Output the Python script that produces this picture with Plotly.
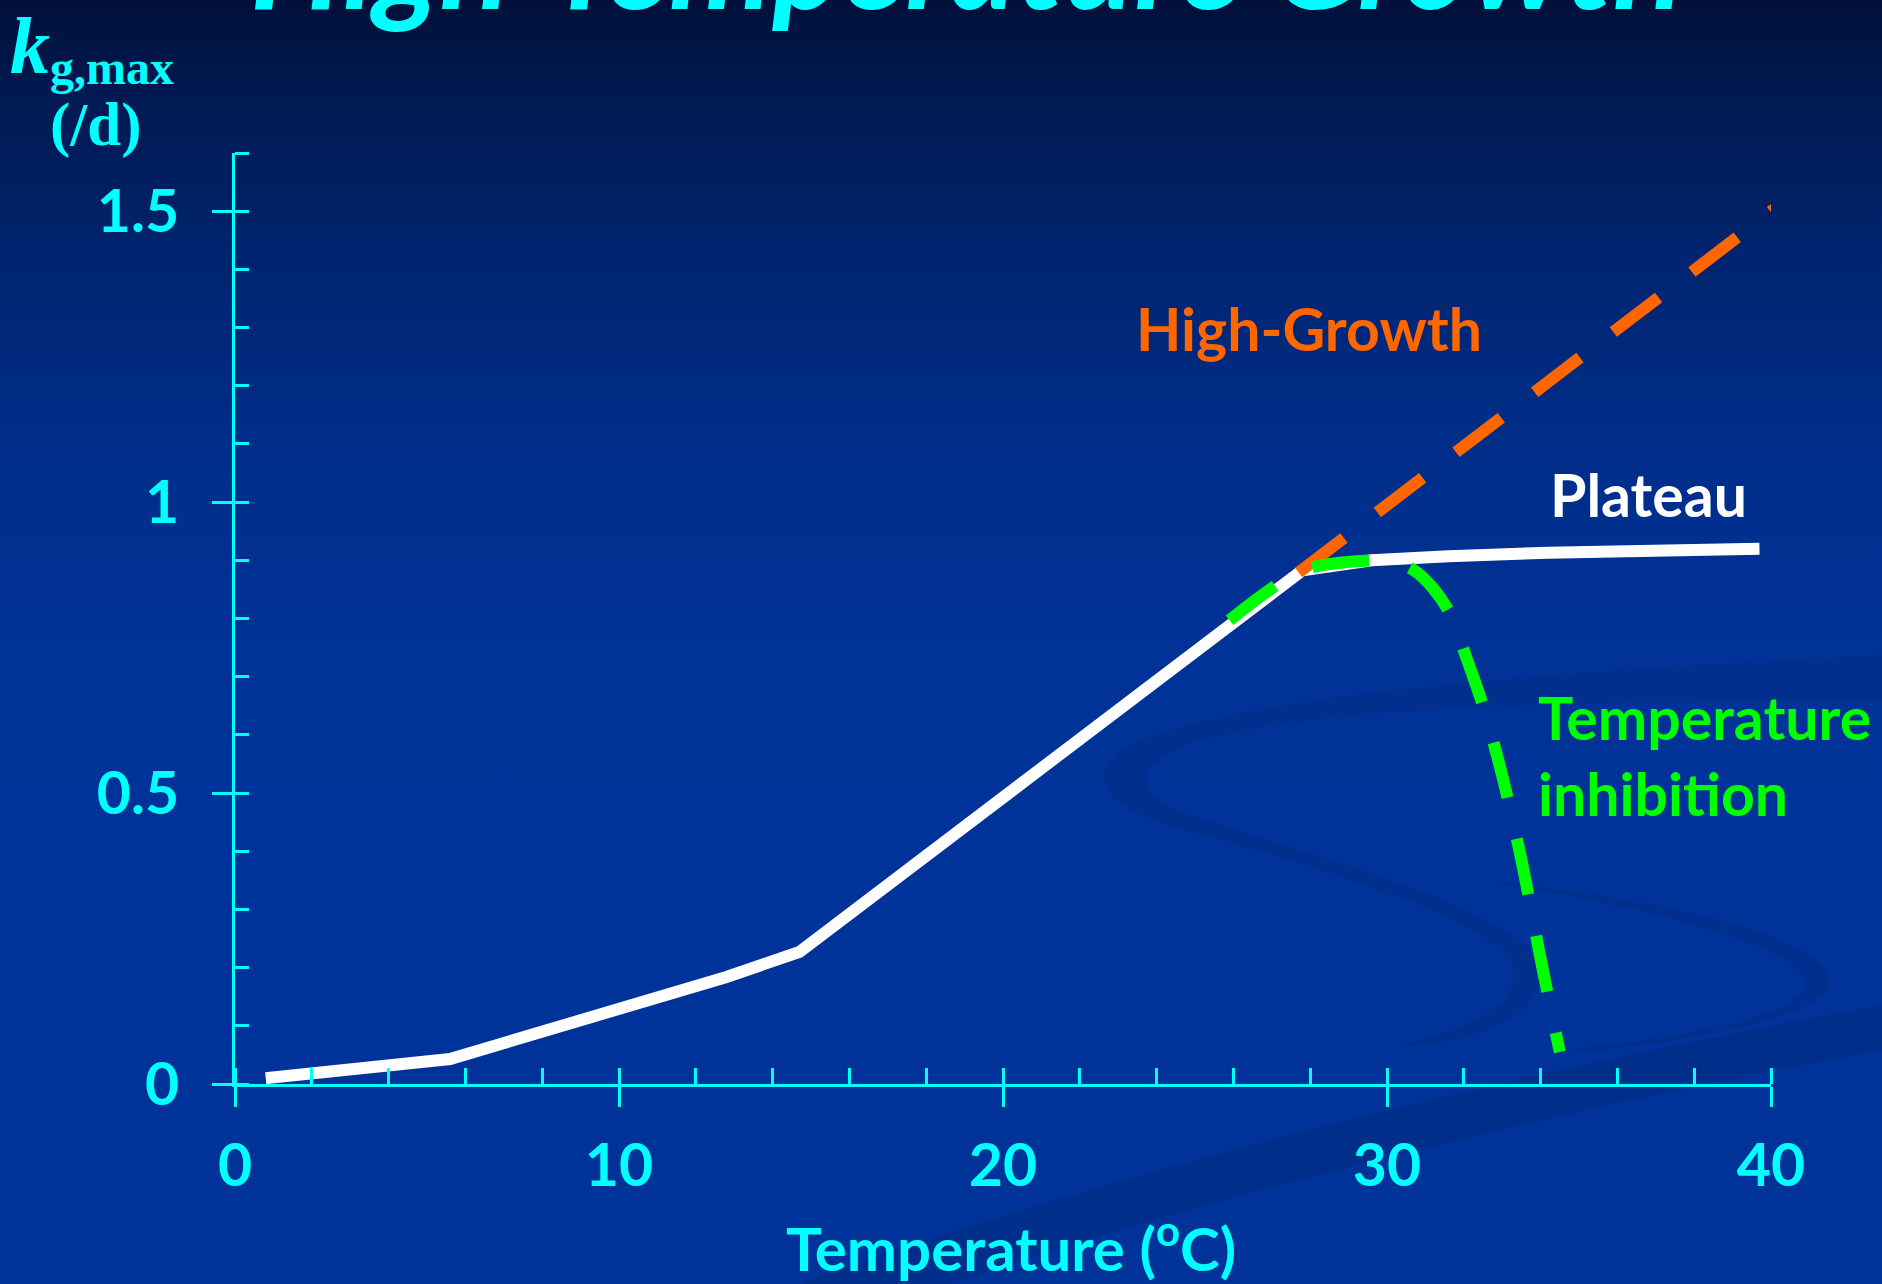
import base64
import plotly.graph_objects as go

# Maximum growth rate k_g,max (/d) against temperature (degC)
plateau_temp = [0.8, 5.6, 12.8, 14.7, 27.8, 29.6, 31.6, 34.2, 39.7]
plateau_rate = [0.010, 0.043, 0.184, 0.227, 0.883, 0.900, 0.907, 0.913, 0.920]

high_growth_temp = [27.7, 40.25]
high_growth_rate = [0.879, 1.512]

inhibition_temp = [25.9, 27.8, 29.6, 30.2, 30.7, 31.2, 31.65, 32.0, 32.5, 33.0, 33.5, 34.0, 34.5]
inhibition_rate = [0.797, 0.883, 0.900, 0.897, 0.883, 0.852, 0.808, 0.745, 0.650, 0.530, 0.385, 0.215, 0.055]

x_tick_vals = [0, 10, 20, 30, 40]
x_tick_text = ["0", "10", "20", "30", "40"]
y_tick_vals = [0, 0.5, 1, 1.5]
y_tick_text = ["0", "0.5", "1", "1.5"]

CYAN = "#00FFFF"
ORANGE = "#FF6600"
GREEN = "#00FF00"
SANS = "Lato"
SERIF = "Liberation Serif"

# page geometry (pixels)
FIG_W, FIG_H = 1882, 1284
M_L, M_R, M_T, M_B = 235, 111, 153, 200
PLOT_W = FIG_W - M_L - M_R
PLOT_H = FIG_H - M_T - M_B


def px(x):
    return (x - M_L) / PLOT_W


def py(y):
    return (FIG_H - M_B - y) / PLOT_H


# slide background: vertical navy gradient with faint swooshes
svg = f"""<svg xmlns="http://www.w3.org/2000/svg" width="{FIG_W}" height="{FIG_H}" viewBox="0 0 {FIG_W} {FIG_H}">
<defs><linearGradient id="bg" x1="0" y1="0" x2="0" y2="1">
<stop offset="0" stop-color="#00103a"/>
<stop offset="0.08" stop-color="#001a52"/>
<stop offset="0.2" stop-color="#00246f"/>
<stop offset="0.34" stop-color="#002d88"/>
<stop offset="0.5" stop-color="#003297"/>
<stop offset="0.62" stop-color="#003399"/>
<stop offset="1" stop-color="#003399"/>
</linearGradient></defs>
<rect width="{FIG_W}" height="{FIG_H}" fill="url(#bg)"/>
<path d="M 800 1284 C 1100 1175, 1500 1075, 1882 1005 L 1882 1050 C 1500 1120, 1150 1215, 950 1284 Z" fill="#002e8b"/>
<path d="M 1882 655 C 1600 670, 1250 690, 1130 745 C 1080 775, 1100 810, 1200 835 C 1350 875, 1480 920, 1510 960 C 1530 1000, 1470 1030, 1400 1045
         L 1430 1045 C 1520 1030, 1560 990, 1530 950 C 1490 905, 1330 860, 1190 815 C 1120 790, 1140 760, 1200 740 C 1330 705, 1600 700, 1882 700 Z" fill="#002f8d"/>
<path d="M 1470 880 C 1650 905, 1810 950, 1805 985 C 1800 1015, 1700 1035, 1560 1050 L 1600 1050 C 1740 1035, 1830 1010, 1830 980 C 1830 940, 1660 895, 1470 880 Z" fill="#002f8d"/>
</svg>"""
bg_uri = "data:image/svg+xml;base64," + base64.b64encode(svg.encode()).decode()

fig = go.Figure()

fig.add_trace(go.Scatter(
    x=plateau_temp, y=plateau_rate, mode="lines",
    line=dict(color="white", width=12), hoverinfo="skip", showlegend=False))
fig.add_trace(go.Scatter(
    x=high_growth_temp, y=high_growth_rate, mode="lines",
    line=dict(color=ORANGE, width=12, dash="57px,42px"), hoverinfo="skip", showlegend=False))
fig.add_trace(go.Scatter(
    x=inhibition_temp, y=inhibition_rate, mode="lines",
    line=dict(color=GREEN, width=12, dash="57px,42px", shape="spline", smoothing=0.8),
    hoverinfo="skip", showlegend=False))

tick_font = dict(family=SANS, size=59, color=CYAN, weight="bold")
common = dict(showgrid=False, zeroline=False, fixedrange=True,
              showline=True, linecolor=CYAN, linewidth=3,
              ticks="outside", ticklen=20, tickwidth=2.5, tickcolor=CYAN,
              tickfont=tick_font)

fig.update_layout(
    width=FIG_W, height=FIG_H,
    margin=dict(l=M_L, r=M_R, t=M_T, b=M_B, pad=0),
    paper_bgcolor="#003399", plot_bgcolor="rgba(0,0,0,0)",
    showlegend=False,
    xaxis=dict(range=[0, 40], tickvals=x_tick_vals, ticktext=x_tick_text,
               minor=dict(ticks="inside", tick0=0, dtick=2, ticklen=16,
                          tickwidth=2.5, tickcolor=CYAN, showgrid=False),
               ticklabelstandoff=8, **common),
    yaxis=dict(range=[0, 1.6], tickvals=y_tick_vals, ticktext=y_tick_text,
               minor=dict(ticks="inside", tick0=0, dtick=0.1, ticklen=14,
                          tickwidth=2.5, tickcolor=CYAN, showgrid=False),
               ticklabelstandoff=21, **common),
    images=[dict(source=bg_uri, xref="paper", yref="paper",
                 x=px(0), y=py(0), sizex=FIG_W / PLOT_W, sizey=FIG_H / PLOT_H,
                 xanchor="left", yanchor="top", sizing="stretch", layer="below")],
)

label = dict(family=SANS, size=59, weight="bold")
annotations = [
    dict(text="High-Temperature Growth", x=px(966), y=py(-41), xanchor="center", yanchor="middle",
         font=dict(family=SANS, size=130, color=CYAN, weight="bold", style="italic")),
    dict(text="High-Growth", x=px(1134), y=py(328), xanchor="left", yanchor="middle",
         font=dict(label, color=ORANGE)),
    dict(text="Plateau", x=px(1548), y=py(495), xanchor="left", yanchor="middle",
         font=dict(label, color="white")),
    dict(text="Temperature", x=px(1536), y=py(717), xanchor="left", yanchor="middle",
         font=dict(label, color=GREEN)),
    dict(text="inhibition", x=px(1536), y=py(793), xanchor="left", yanchor="middle",
         font=dict(label, color=GREEN)),
    dict(text="Temperature (<sup>o</sup>C)", x=px(1011), y=py(1286), xanchor="center", yanchor="bottom",
         font=dict(family=SANS, size=60, color=CYAN, weight="bold")),
    dict(text="<b><i>k</i></b>", x=px(8), y=py(0), xanchor="left", yanchor="top",
         font=dict(family=SERIF, size=80, color=CYAN)),
    dict(text="<b>g,max</b>", x=px(48), y=py(39), xanchor="left", yanchor="top",
         font=dict(family=SERIF, size=48, color=CYAN)),
    dict(text="<b>(/d)</b>", x=px(48), y=py(89), xanchor="left", yanchor="top",
         font=dict(family=SERIF, size=61, color=CYAN)),
]
for a in annotations:
    a.update(xref="paper", yref="paper", showarrow=False)
fig.update_layout(annotations=annotations)

fig.write_html("out.html", config=dict(displayModeBar=False))
